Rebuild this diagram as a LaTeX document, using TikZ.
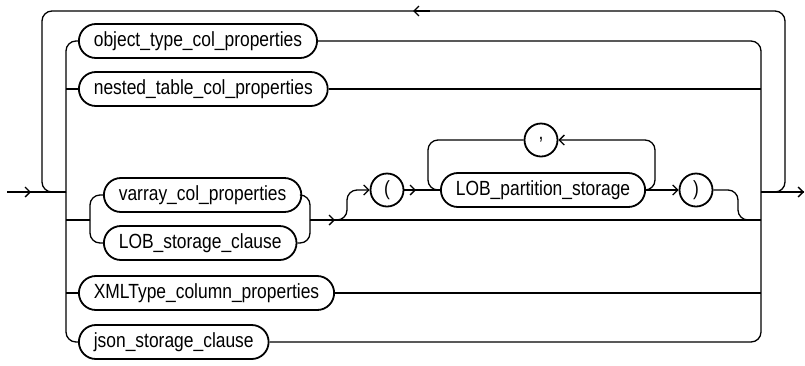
\documentclass[tikz,border=0pt]{standalone}
\usepackage{fontspec}
\setmainfont{Liberation Sans}
\newfontfamily\diagfont[FakeStretch=0.85]{Liberation Sans}
\usetikzlibrary{arrows.meta,shapes.misc}
\begin{document}
\begin{tikzpicture}[x=1pt,y=-1pt,
  line width=1.3pt,
  nt/.style={draw, rounded rectangle, line width=1.8pt, minimum height=34pt, inner xsep=12pt, inner ysep=0pt, font=\diagfont\fontsize{20.5}{22}\selectfont, anchor=west},
  term/.style={draw, circle, line width=1.8pt, minimum size=33pt, inner sep=0pt, font=\diagfont\fontsize{20.5}{22}\selectfont},
  tip/.style={-{Straight Barb[length=5pt,width=10pt]}},
  rc/.style={rounded corners=10pt}]
\useasboundingbox (0,0) rectangle (805,365);

% nodes
\node[nt] (obj) at (78,41) {object\_type\_col\_properties};
\node[nt] (nest) at (78,89) {nested\_table\_col\_properties};
\node[nt] (varr) at (103,195) {varray\_col\_properties};
\node[nt] (lobs) at (103,243) {LOB\_storage\_clause};
\node[nt] (xml) at (78,293) {XMLType\_column\_properties};
\node[nt] (json) at (78,342) {json\_storage\_clause};
\node[term] (lp) at (387,190) {(};
\node[nt] (lps) at (440,190) {LOB\_partition\_storage};
\node[term] (cm) at (541,140) {,};
\node[term] (rp) at (696,190) {)};

% coordinates
\coordinate (in) at (7,192);
\coordinate (jl) at (66,192);
\coordinate (jr) at (761,192);
\coordinate (out) at (804,192);
\coordinate (lnest) at (66,89);
\coordinate (rnest) at (761,89);
\coordinate (lxml) at (66,293);
\coordinate (rxml) at (761,293);
\coordinate (lv) at (66,220);
\coordinate (sl) at (90,220);
\coordinate (sr) at (310,220);
\coordinate (rv) at (761,220);

% entry and exit
\draw (in) -- (jl);
\draw[tip] (in) -- (31,192);
\draw (jr) -- (out);
\draw[tip] (785,192) -- (out);

% outer loop
\draw[rc] (jr) -| (785,11) -| (42,192) -- (jl);
\draw[tip] (430,11) -- (413,11);

% left trunk
\draw[rc] (jl) |- (obj.west);
\draw[rc] (jl) |- (json.west);
\draw (lnest) -- (nest.west);
\draw (lxml) -- (xml.west);
\draw (lv) -- (sl);

% right trunk
\draw[rc] (obj.east) -| (jr);
\draw[rc] (json.east) -| (jr);
\draw (nest.east) -- (rnest);
\draw (xml.east) -- (rxml);

% varray group
\draw[rc] (sl) |- (varr.west);
\draw[rc] (sl) |- (lobs.west);
\draw[rc] (varr.east) -| (sr);
\draw[rc] (lobs.east) -| (sr);
\draw (sr) -- (rv);
\draw[tip] (320,220) -- (335,220);

% optional partition list
\draw[rc,tip] (336,220) -- (347,220) -- (347,190) -- (lp.west);
\draw (lp.east) -- (lps.west);
\draw[tip] (lp.east) -- (416,190);
\draw[rc,tip] (lps.east) -| (655,140) -- (cm.east);
\draw[rc] (cm.west) -| (428,190) -- (lps.west);
\draw[tip] (lps.east) -- (rp.west);
\draw[rc] (rp.east) -- (738,190) -- (738,220) -- (rv);
\end{tikzpicture}
\end{document}
